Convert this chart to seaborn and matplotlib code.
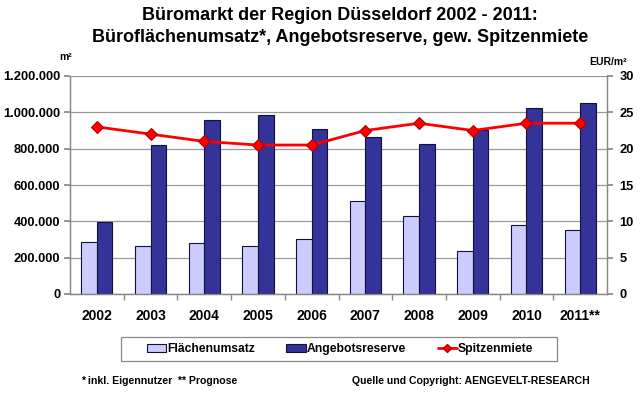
import numpy as np
import pandas as pd
import matplotlib
matplotlib.use("Agg")
import matplotlib.pyplot as plt
from matplotlib.ticker import FuncFormatter, FixedLocator
from matplotlib.patches import Patch, Rectangle
from matplotlib.lines import Line2D
import seaborn as sns

years = ["2002", "2003", "2004", "2005", "2006", "2007", "2008", "2009", "2010", "2011**"]
flaechenumsatz = [288000, 266000, 281000, 263000, 303000, 512000, 429000, 237000, 379000, 352000]
angebotsreserve = [397000, 821000, 957000, 987000, 910000, 866000, 828000, 905000, 1023000, 1052000]
spitzenmiete = [23.0, 22.0, 21.0, 20.5, 20.5, 22.5, 23.5, 22.5, 23.5, 23.5]
series_names = ["Flächenumsatz", "Angebotsreserve", "Spitzenmiete"]

sns.set_theme(style="white")
plt.rcParams["font.family"] = ["Liberation Sans", "DejaVu Sans"]
plt.rcParams["text.color"] = "black"
plt.rcParams["xtick.color"] = "black"
plt.rcParams["ytick.color"] = "black"
plt.rcParams["axes.labelcolor"] = "black"

light = "#CCCCFF"
dark = "#333399"
red = "#FF0000"

df = pd.DataFrame({
    "Jahr": years * 2,
    "Wert": flaechenumsatz + angebotsreserve,
    "Serie": [series_names[0]] * len(years) + [series_names[1]] * len(years),
})
df_line = pd.DataFrame({"Jahr": years, "Miete": spitzenmiete})

fig = plt.figure(figsize=(6.4, 3.94), dpi=100)
ax = fig.add_axes([70 / 640, 1 - 294 / 394, (607 - 70) / 640, (294 - 76) / 394])

sns.barplot(data=df, x="Jahr", y="Wert", hue="Serie", order=years,
            hue_order=series_names[:2], palette=[light, dark], width=0.58,
            edgecolor="#10103a", linewidth=0.8, saturation=1, gap=0,
            legend=False, ax=ax, zorder=3)

ax.set_ylim(0, 1200000)
ax.set_xlim(-0.5, len(years) - 0.5)
ax.set_yticks(np.arange(0, 1200001, 200000))
ax.yaxis.set_major_formatter(FuncFormatter(lambda v, p: f"{int(v):,}".replace(",", ".")))
ax.grid(axis="y", color="#999999", linewidth=0.9, zorder=0)
ax.set_axisbelow(True)
ax.set_xlabel("")
ax.set_ylabel("")

ax2 = ax.twinx()
sns.pointplot(data=df_line, x="Jahr", y="Miete", order=years, color=red,
              markers="D", markersize=6, linewidth=2, ax=ax2)
for line in ax2.lines:
    line.set_markeredgecolor("#B00000")
    line.set_markeredgewidth(0.8)
ax2.set_ylim(0, 30)
ax2.set_yticks(np.arange(0, 31, 5))
ax2.set_xlim(-0.5, len(years) - 0.5)
ax2.set_ylabel("")
ax2.set_xlabel("")
ax2.grid(False)

ax.set_xticks(range(len(years)))
ax.set_xticklabels(years, fontsize=10, fontweight="bold")
ax.xaxis.set_minor_locator(FixedLocator(np.arange(0.5, len(years) - 0.5, 1)))
ax.tick_params(axis="x", which="major", length=0, pad=11)
ax.tick_params(axis="x", which="minor", length=4, color="#888888", direction="out", bottom=True)
ax.tick_params(axis="y", length=4, color="#888888", direction="out", left=True, labelsize=9.3, pad=3)
ax2.tick_params(axis="y", length=4, color="#888888", direction="out", right=True, labelsize=9.3, pad=5)
for lab in ax.get_yticklabels() + ax2.get_yticklabels():
    lab.set_fontweight("bold")

for a in (ax, ax2):
    a.spines["top"].set_visible(False)
    for s in ("left", "right", "bottom"):
        a.spines[s].set_color("#888888")
        a.spines[s].set_linewidth(0.9)

fig.text(340 / 640, 1 - 16 / 394, "Büromarkt der Region Düsseldorf 2002 - 2011:",
         ha="center", va="center", fontsize=13, fontweight="bold")
fig.text(340 / 640, 1 - 37 / 394, "Büroflächenumsatz*, Angebotsreserve, gew. Spitzenmiete",
         ha="center", va="center", fontsize=13, fontweight="bold")
fig.text(66 / 640, 1 - 57 / 394, "m²", ha="center", va="center", fontsize=7.5, fontweight="bold")
fig.text(627 / 640, 1 - 62 / 394, "EUR/m²", ha="right", va="center", fontsize=7.5, fontweight="bold")

handles = [
    Patch(facecolor=light, edgecolor="#10103a", linewidth=0.8),
    Patch(facecolor=dark, edgecolor="#10103a", linewidth=0.8),
    Line2D([0], [0], color=red, linewidth=2, marker="D", markersize=4,
           markeredgecolor="#B00000"),
]
leg = fig.legend(handles, series_names, ncol=3, loc="center",
                 bbox_to_anchor=(340 / 640, 1 - 349 / 394), frameon=False,
                 prop={"weight": "bold", "size": 8.7},
                 handlelength=1.6, handleheight=0.6, handletextpad=0.1,
                 columnspacing=2.6, borderpad=0.3)
fig.patches.append(Rectangle((121 / 640, 1 - 361 / 394), (557 - 121) / 640, (361 - 337) / 394,
                             transform=fig.transFigure, facecolor="none",
                             edgecolor="#888888", linewidth=0.9, zorder=0))

fig.text(81 / 640, 1 - 381 / 394, "* inkl. Eigennutzer  ** Prognose",
         ha="left", va="center", fontsize=7.6, fontweight="bold")
fig.text(590 / 640, 1 - 381 / 394, "Quelle und Copyright: AENGEVELT-RESEARCH",
         ha="right", va="center", fontsize=7.6, fontweight="bold")

fig.savefig("out.png", dpi=100, facecolor="white")
